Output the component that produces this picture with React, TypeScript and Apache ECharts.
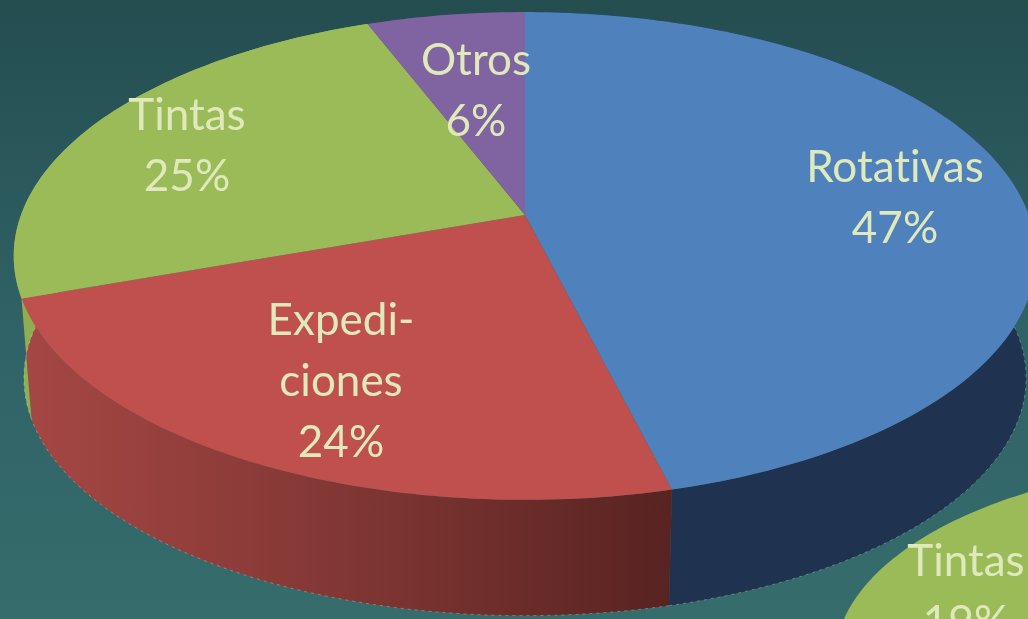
import React, { useEffect, useRef } from "react";
import * as echarts from "echarts";

const categories = ["Rotativas", "Expedi-\nciones", "Tintas", "Otros"];
const shares = [47, 24, 25, 6];
const secondCategories = ["Tintas"];
const secondShares = [19];

const topColors = ["#4f81bd", "#c0504d", "#9bbb59", "#8064a2"];
const sideFills: any[] = [
  "#1f3350",
  {
    type: "linear", x: 20, y: 0, x2: 670, y2: 0, global: true,
    colorStops: [
      { offset: 0, color: "#a64744" },
      { offset: 0.5, color: "#813734" },
      { offset: 1, color: "#582321" },
    ],
  },
  "#8fae52",
  "#5f4a7a",
];
const labelCenters = [[895, 195], [341, 379], [187, 143], [476, 88]];

const total = shares.reduce((a, b) => a + b, 0);
const starts: number[] = [];
shares.reduce((acc, v, i) => { starts[i] = acc; return acc + v / total; }, 0);

type Lens = { cx: number; cy: number; sx: number; sy: number; k: number };
const topLens: Lens = { cx: 525, cy: 215, sx: 504, sy: 237, k: 0.168 };
const baseLens: Lens = { cx: 525, cy: 338, sx: 494, sy: 231, k: 0.168 };
const secondLens: Lens = { cx: 1250, cy: 660, sx: 415, sy: 198.5, k: 0 };
const secondStart = 0.75;

function project(l: Lens, f: number): number[] {
  const a = f * Math.PI * 2;
  const X = Math.sin(a), Y = Math.cos(a), d = 1 + l.k * Y;
  return [l.cx + (l.sx * X) / d, l.cy - (l.sy * Y) / d];
}
function arc(l: Lens, f0: number, f1: number): number[][] {
  const n = Math.max(8, Math.ceil((f1 - f0) * 360));
  const out: number[][] = [];
  for (let i = 0; i <= n; i++) out.push(project(l, f0 + ((f1 - f0) * i) / n));
  return out;
}

const fontFamily = "Lato, sans-serif";
const textColor = "#dfe9bb";
const labelFont = `44px ${fontFamily}`;

export default function App() {
  const ref = useRef<HTMLDivElement>(null);
  useEffect(() => {
    document.body.style.margin = "0";
    const chart = echarts.init(ref.current!, null, { renderer: "svg" });
    const data = shares.map((v, i) => ({ name: categories[i].replace("-\n", ""), value: v }));
    chart.setOption({
      animation: false,
      backgroundColor: {
        type: "linear", x: 0, y: 0, x2: 0, y2: 1,
        colorStops: [
          { offset: 0, color: "#244d50" },
          { offset: 0.55, color: "#306367" },
          { offset: 1, color: "#366c6c" },
        ],
      },
      series: [
        {
          type: "custom", name: "side", coordinateSystem: "none", data, silent: true, z: 1,
          renderItem: (p: any) => {
            const i = p.dataIndex;
            const f0 = starts[i], f1 = f0 + shares[i] / total;
            const rim = arc(baseLens, f0, f1);
            const pts = arc(topLens, f0, f1).concat(rim.slice().reverse());
            return {
              type: "group",
              children: [
                { type: "polygon", shape: { points: pts }, style: { fill: sideFills[i] } },
                {
                  type: "polyline", shape: { points: rim },
                  style: { fill: "none", stroke: "rgba(255,255,255,0.28)", lineWidth: 1, lineDash: [3, 4] },
                },
              ],
            };
          },
        },
        {
          type: "custom", name: "top", coordinateSystem: "none", data, silent: true, z: 2,
          renderItem: (p: any) => {
            const i = p.dataIndex;
            const f0 = starts[i], f1 = f0 + shares[i] / total;
            const pts = [[topLens.cx, topLens.cy], ...arc(topLens, f0, f1)];
            return { type: "polygon", shape: { points: pts }, style: { fill: topColors[i] } };
          },
        },
        {
          type: "custom", name: "second", coordinateSystem: "none", silent: true, z: 2,
          data: secondShares.map((v, i) => ({ name: secondCategories[i], value: v })),
          renderItem: (p: any) => {
            const i = p.dataIndex;
            const f1 = secondStart + secondShares[i] / 100;
            const pts = [[secondLens.cx, secondLens.cy], ...arc(secondLens, secondStart, f1)];
            return {
              type: "group",
              children: [
                { type: "polygon", shape: { points: pts }, style: { fill: topColors[2] } },
                {
                  type: "text", z2: 5,
                  style: {
                    x: 966, y: 589, text: `${secondCategories[i]}\n${secondShares[i]}%`,
                    fill: textColor, font: labelFont, align: "center",
                    verticalAlign: "middle", lineHeight: 61,
                  },
                },
              ],
            };
          },
        },
        {
          type: "custom", name: "labels", coordinateSystem: "none", data, silent: true, z: 3,
          renderItem: (p: any) => {
            const i = p.dataIndex;
            return {
              type: "text",
              style: {
                x: labelCenters[i][0], y: labelCenters[i][1],
                text: `${categories[i]}\n${shares[i]}%`,
                fill: textColor, font: labelFont, align: "center",
                verticalAlign: "middle", lineHeight: 61,
              },
            };
          },
        },
      ],
    });
    return () => chart.dispose();
  }, []);
  return (
    <>
      <style>{"svg text { font-variant-ligatures: none !important; }"}</style>
      <div
        ref={ref}
        style={{ position: "fixed", left: 0, top: 0, width: 1028, height: 619, filter: "blur(0.5px)" }}
      />
    </>
  );
}
